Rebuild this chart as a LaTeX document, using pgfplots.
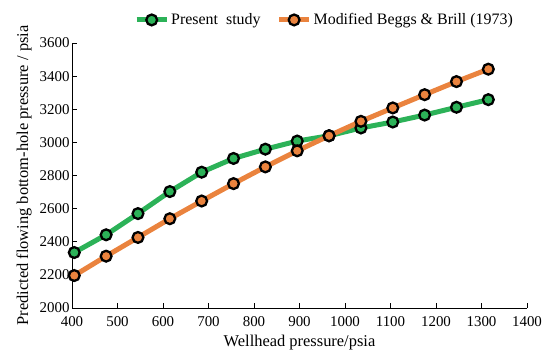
\documentclass[border=0pt]{standalone}
\usepackage{fontspec}
\setmainfont{Liberation Serif}
\usepackage{pgfplots}
\pgfplotsset{compat=1.18}
\definecolor{cgreen}{RGB}{44,178,88}
\definecolor{corange}{RGB}{234,131,62}
\begin{document}
\begin{tikzpicture}
\begin{axis}[
  scale only axis,
  width=455bp, height=265bp,
  xmin=400, xmax=1400, ymin=2000, ymax=3600,
  xtick={400,500,...,1400}, ytick={2000,2200,...,3600},
  axis lines=left,
  axis line style={-, line width=0.9pt},
  tick style={black, line width=0.9pt},
  tick align=inside,
  major tick length=5bp,
  /pgf/number format/assume math mode=true,
  /pgf/number format/1000 sep={},
  tick label style={font=\fontsize{15}{17}\selectfont},
  xticklabel style={yshift=-5bp},
  yticklabel style={xshift=1bp},
  label style={font=\fontsize{16.5}{18}\selectfont},
  xlabel={Wellhead pressure/psia},
  ylabel={Predicted flowing bottom-hole pressure / psia},
  xlabel style={at={(axis description cs:0.5,-0.13)}, anchor=center},
  ylabel style={at={(axis description cs:-0.105,0.5)}, anchor=center},
  clip=false,
  legend style={at={(axis description cs:0.555,1.087)}, anchor=center, draw=none, fill=none, legend columns=2,
    font=\fontsize{16}{18}\selectfont, inner sep=0pt,
    /tikz/every even column/.append style={column sep=14bp}},
  legend image code/.code={\draw[#1, mark=none] (0bp,0bp) -- (30bp,0bp); \draw[#1, only marks] plot coordinates {(15bp,0bp)};},
]
\addplot[cgreen, line width=5bp, mark=*, mark size=5.4bp, mark options={fill=cgreen, draw=black, line width=2.3bp}]
coordinates {(405,2335)(475,2442)(545,2570)(615,2703)(685,2820)(755,2903)(825,2959)(895,3008)(965,3040)(1035,3087)(1105,3123)(1175,3165)(1245,3212)(1315,3258)};
\addlegendentry{Present\ \ study}
\addplot[corange, line width=5bp, mark=*, mark size=5.4bp, mark options={fill=corange, draw=black, line width=2.3bp}]
coordinates {(405,2196)(475,2313)(545,2426)(615,2539)(685,2646)(755,2751)(825,2852)(895,2949)(965,3040)(1035,3127)(1105,3208)(1175,3288)(1245,3367)(1315,3442)};
\addlegendentry{Modified Beggs \& Brill (1973)}
\end{axis}
\pgfresetboundingbox
\path[use as bounding box] (-72bp,-46bp) rectangle (483bp,308bp);
\end{tikzpicture}
\end{document}
